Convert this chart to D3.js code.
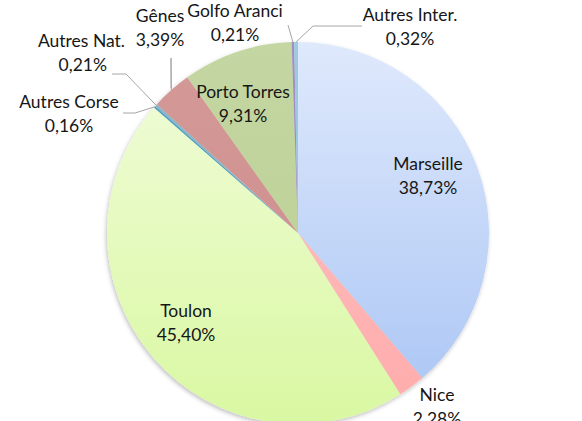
<!DOCTYPE html>
<html>
<head>
<meta charset="utf-8">
<script src="https://cdn.jsdelivr.net/npm/d3@7"></script>
<style>
  body { margin: 0; background: #fff; }
  text { font-family: Lato, "Open Sans", sans-serif; font-size: 17.5px; fill: #161616; }
</style>
</head>
<body>
<div id="chart"></div>
<script>
var svgWidth = 582;
var svgHeight = 421;

// slices, clockwise from 12 o'clock
var ports = ["Marseille", "Nice", "Toulon", "Autres Corse", "Autres Nat.", "Gênes", "Porto Torres", "Golfo Aranci", "Autres Inter."];
var shares = [38.73, 2.28, 45.40, 0.16, 0.21, 3.39, 9.31, 0.21, 0.32];
var shareLabels = ["38,73%", "2,28%", "45,40%", "0,16%", "0,21%", "3,39%", "9,31%", "0,21%", "0,32%"];
// gradient top / bottom colour per slice
var colorsTop = ["#dfe9fc", "#ffc4c4", "#f2fcdc", "#4aa3c8", "#8fb8c8", "#d49a98", "#c4d6a2", "#a48fc4", "#9ccbe0"];
var colorsBottom = ["#a8c4f4", "#ffabab", "#d9f8a2", "#3a92bb", "#7faabd", "#cc8a88", "#b9cf92", "#9884ba", "#8cc0d8"];

var cx = 298, cy = 233, radius = 191;

var svg = d3.select("#chart")
  .append("svg")
  .attr("width", svgWidth)
  .attr("height", svgHeight);

var defs = svg.append("defs");

var shadow = defs.append("filter")
  .attr("id", "shadow")
  .attr("x", "-10%").attr("y", "-10%")
  .attr("width", "120%").attr("height", "120%");
shadow.append("feDropShadow")
  .attr("dx", -1).attr("dy", 2)
  .attr("stdDeviation", 2)
  .attr("flood-color", "#000")
  .attr("flood-opacity", 0.25);

ports.forEach(function(p, i) {
  var g = defs.append("linearGradient")
    .attr("id", "grad" + i)
    .attr("gradientUnits", "userSpaceOnUse")
    .attr("x1", 0).attr("y1", -radius)
    .attr("x2", 0).attr("y2", radius);
  g.append("stop").attr("offset", "0%").attr("stop-color", colorsTop[i]);
  g.append("stop").attr("offset", "100%").attr("stop-color", colorsBottom[i]);
});

var data = ports.map(function(p, i) {
  return { port: p, value: shares[i], label: shareLabels[i], i: i };
});

var pie = d3.pie()
  .sort(null)
  .value(d => d.value);

var arc = d3.arc()
  .innerRadius(0)
  .outerRadius(radius);

var arcs = pie(data);

var chartGroup = svg.append("g")
  .attr("transform", `translate(${cx}, ${cy})`);

chartGroup.append("g")
  .attr("filter", "url(#shadow)")
  .selectAll("path")
  .data(arcs)
  .enter()
  .append("path")
  .attr("d", arc)
  .attr("fill", d => "url(#grad" + d.data.i + ")");

// label positions (relative to centre) and text anchor
var labelPos = [
  { x: 130, y: -63, anchor: "middle" },
  { x: 139, y: 168, anchor: "middle" },
  { x: -112, y: 84, anchor: "middle" },
  { x: -229, y: -125, anchor: "middle" },
  { x: -173, y: -186, anchor: "end" },
  { x: -138, y: -211, anchor: "middle" },
  { x: -55, y: -135, anchor: "middle" },
  { x: -63, y: -216, anchor: "middle" },
  { x: 112, y: -212, anchor: "middle" }
];

// leader lines for the small slices (elbow point, end near label)
var leaders = {
  3: [[-163, -120], [-175, -120]],
  4: [[-172, -159], [-186, -159]],
  5: [[-127, -175], [-127, -145]],
  7: [[-10, -208]],
  8: [[15, -207], [64, -207]]
};

Object.keys(leaders).forEach(function(k) {
  var a = arcs[+k];
  var mid = (a.startAngle + a.endAngle) / 2;
  var start = [radius * Math.sin(mid), -radius * Math.cos(mid)];
  var pts = [start].concat(leaders[k]);
  chartGroup.append("polyline")
    .attr("points", pts.map(p => p.join(",")).join(" "))
    .attr("fill", "none")
    .attr("stroke", "#a6a6a6")
    .attr("stroke-width", 1);
});

var labels = chartGroup.selectAll(".slice-label")
  .data(arcs)
  .enter()
  .append("text")
  .attr("class", "slice-label")
  .attr("text-anchor", d => labelPos[d.data.i].anchor)
  .attr("transform", d => `translate(${labelPos[d.data.i].x}, ${labelPos[d.data.i].y})`);

labels.append("tspan")
  .attr("x", 0)
  .attr("y", 0)
  .text(d => d.data.port);

labels.append("tspan")
  .attr("x", d => labelPos[d.data.i].anchor === "end" ? -18 : 0)
  .attr("y", 24)
  .text(d => d.data.label);
</script>
</body>
</html>
